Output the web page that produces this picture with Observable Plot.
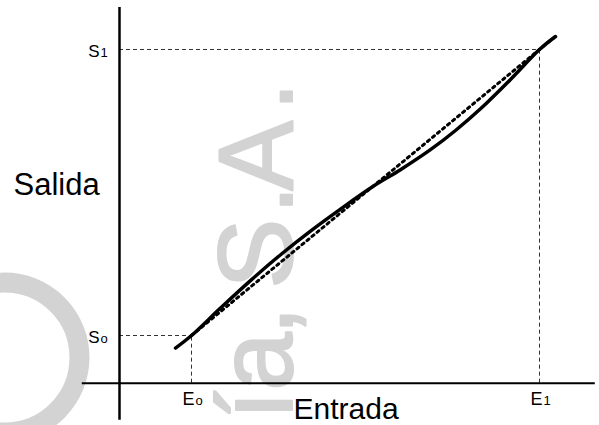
<!DOCTYPE html>
<html><head><meta charset="utf-8">
<script src="https://cdn.jsdelivr.net/npm/d3@7"></script>
<script src="https://cdn.jsdelivr.net/npm/@observablehq/plot@0.6"></script>
<style>body{margin:0;background:#fff}svg{display:block}</style>
</head><body><div id="chart"></div>
<script>
// Curva real (trazo continuo)
const entrada = [0.933, 1.2, 1.683, 2.183, 2.7, 3.183, 3.683, 4.217, 4.683, 5.183, 5.6, 6.017, 6.517, 7.0, 7.267];
const salida  = [0.736, 1.0, 1.575, 2.152, 2.71, 3.19, 3.652, 4.121, 4.478, 4.898, 5.301, 5.756, 6.371, 7.0, 7.273];
// Recta ideal (trazo punteado)
const idealX = [1.2, 7.23];
const idealY = [1.0, 7.24];
// Puntos de referencia
const E0 = 1.2, E1 = 7.0, S0 = 1.0, S1 = 7.0;
const xTickValues = [E0, E1];
const xTickMain = ["E", "E"];
const xTickSub = ["o", "1"];
const yTickValues = [S0, S1];
const yTickMain = ["S", "S"];
const yTickSub = ["o", "1"];
const xTitle = "Entrada";
const yTitle = "Salida";
// Marca de agua (caracteres girados, de arriba abajo)
const watermarkChars = [".", "A", ".", "S", ",", "a", "í"];
const watermarkAt = [6.014, 4.773, 3.85, 2.717, 1.311, 0.451, -0.469];

const curve = entrada.map((x, i) => ({x, y: salida[i]}));
const ideal = idealX.map((x, i) => ({x, y: idealY[i]}));
const gray = "#d3d3d3";
const dash = {stroke: "#333", strokeWidth: 1, strokeDasharray: "4,3"};

const chart = Plot.plot({
  width: 599, height: 425,
  marginLeft: 119, marginRight: 0, marginTop: 1.333, marginBottom: 42.333,
  x: {domain: [0, 8], axis: null},
  y: {domain: [0, 8], axis: null},
  style: {fontFamily: "'Liberation Sans', Arial, sans-serif", background: "#fff"},
  marks: [
    // marca de agua
    Plot.text(watermarkChars, {x: 2.317, y: (d, i) => watermarkAt[i], text: d => d, rotate: -90, textAnchor: "middle", lineAnchor: "middle", fontSize: 105, fill: gray, stroke: gray, strokeWidth: 2}),
    Plot.dot([0], {x: -1.917, y: 0.538, r: 75, fill: "none", stroke: gray, strokeWidth: 20}),
    // guías discontinuas
    Plot.ruleY([S1], {x1: 0, x2: E1, ...dash}),
    Plot.ruleX([E1], {y1: 0, y2: S1, ...dash}),
    Plot.ruleY([S0], {x1: 0, x2: E0, ...dash}),
    Plot.ruleX([E0], {y1: 0, y2: S0, ...dash}),
    // ejes
    Plot.ruleY([0], {x1: -0.62, x2: 7.93, stroke: "#000", strokeWidth: 2}),
    Plot.ruleX([0], {y1: -0.78, y2: 7.88, stroke: "#000", strokeWidth: 2.5}),
    // recta ideal
    Plot.line(ideal, {x: "x", y: "y", stroke: "#000", strokeWidth: 3, strokeDasharray: "2.5,4"}),
    // curva real
    Plot.line(curve, {x: "x", y: "y", curve: "catmull-rom", stroke: "#000", strokeWidth: 3.5}),
    // etiquetas eje Y
    Plot.text(yTickValues, {x: 0, y: d => d, text: (d, i) => yTickMain[i], textAnchor: "end", lineAnchor: "middle", fontSize: 17, dx: -20, dy: 2.5, fill: "#000"}),
    Plot.text(yTickValues, {x: 0, y: d => d, text: (d, i) => yTickSub[i], textAnchor: "start", lineAnchor: "middle", fontSize: 13, dx: -19, dy: 3.8, fill: "#000"}),
    // etiquetas eje X
    Plot.text(xTickValues, {x: d => d, y: 0, text: (d, i) => xTickMain[i], textAnchor: "end", lineAnchor: "middle", fontSize: 18, dx: 3, dy: 16.5, fill: "#000"}),
    Plot.text(xTickValues, {x: d => d, y: 0, text: (d, i) => xTickSub[i], textAnchor: "start", lineAnchor: "middle", fontSize: 13, dx: 4, dy: 18, fill: "#000"}),
    // títulos
    Plot.text([yTitle], {x: 0, y: 4, text: d => d, textAnchor: "start", lineAnchor: "middle", fontSize: 31, dx: -106, dy: -7, fill: "#000"}),
    Plot.text([xTitle], {x: 3, y: 0, text: d => d, textAnchor: "start", lineAnchor: "middle", fontSize: 30, dx: -6, dy: 26.5, fill: "#000"})
  ]
});
document.getElementById("chart").appendChild(chart);
</script>
</body></html>
